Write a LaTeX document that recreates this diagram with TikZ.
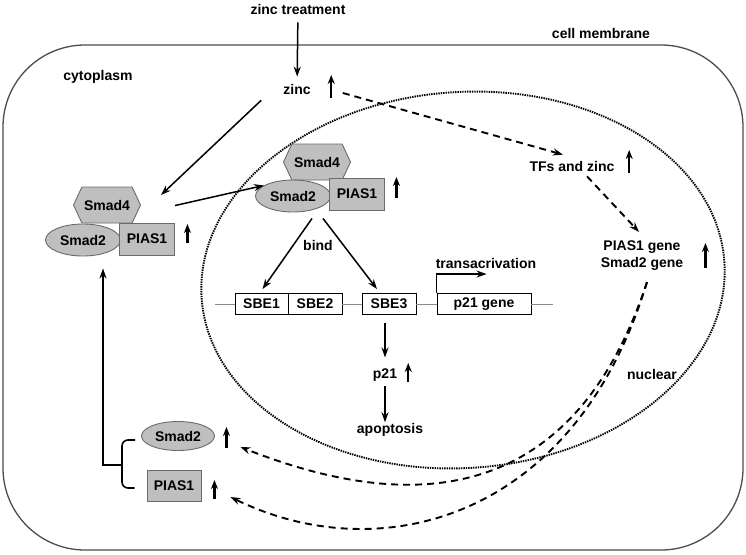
\documentclass[tikz,border=0pt]{standalone}
\usepackage{fontspec}
\setmainfont{Liberation Sans}
\usetikzlibrary{shapes.geometric,shapes.symbols,arrows.meta,calc}

\definecolor{protfill}{gray}{0.75}
\definecolor{protline}{gray}{0.42}
\definecolor{dnaline}{gray}{0.55}
\definecolor{membline}{gray}{0.3}

\tikzset{
  lbl/.style={font=\bfseries\fontsize{14}{17}\selectfont, inner sep=1pt},
  prot/.style={lbl, draw=protline, fill=protfill, line width=0.9pt, inner sep=0pt},
  hexa/.style={prot, signal, signal to=east and west, signal pointer angle=130, minimum width=67, minimum height=36},
  smadell/.style={prot, ellipse, minimum width=75, minimum height=32},
  piasbox/.style={prot, rectangle, minimum width=55, minimum height=32},
  sbebox/.style={lbl, draw, fill=white, line width=0.9pt, minimum height=21, inner sep=0pt},
  arr/.style={->, line width=1.5pt},
  darr/.style={->, line width=1.9pt, dash pattern=on 7pt off 5pt},
  incr/.style={->, line width=2.2pt, >={Stealth[length=9pt,width=7pt]}},
  dna/.style={draw=dnaline, line width=0.9pt},
}

\begin{document}
\begin{tikzpicture}[x=1pt,y=-1pt,>={Stealth[length=10pt,width=7pt]}]
  \useasboundingbox (0,0) rectangle (746,554);

  % cell and nucleus
  \draw[membline, line width=1.3pt, rounded corners=82pt] (3,45) rectangle (743,550);
  \draw[line width=1.9pt, dash pattern=on 1.4pt off 1pt, rotate around={4:(463,280)}]
    (463,280) ellipse [x radius=262, y radius=188];

  \node[lbl] (zt) at (298,9) {zinc treatment};
  \node[lbl] (cm) at (601,33) {cell membrane};
  \node[lbl] (cyto) at (98,77) {cytoplasm};
  \node[lbl] (zinc) at (297,89) {zinc};
  \node[lbl] (nuc) at (652,374) {nuclear};

  % complex in the cytoplasm
  \node[hexa] (s4a) at (107,205) {Smad4};
  \node[smadell] (s2a) at (83,240) {Smad2};
  \node[piasbox] (p1a) at (147,239) {PIAS1};

  % complex in the nucleus
  \node[hexa] (s4b) at (317,162) {Smad4};
  \node[smadell] (s2b) at (293,196) {Smad2};
  \node[piasbox] (p1b) at (357,194) {PIAS1};
  \node[lbl] (bind) at (318,245) {bind};

  % promoter
  \node[sbebox, minimum width=53] (sbe1) at (261.5,304) {SBE1};
  \node[sbebox, minimum width=54] (sbe2) at (315,304) {SBE2};
  \node[sbebox, minimum width=54] (sbe3) at (389,304) {SBE3};
  \node[sbebox, minimum width=94] (p21g) at (484,304) {p21 gene};
  \node[lbl] (trans) at (486,263) {transacrivation};
  \node[lbl] (p21) at (385,375) {p21};
  \node[lbl] (apop) at (390,430) {apoptosis};

  \node[lbl] (tfs) at (572,166) {TFs and zinc};
  \node[lbl, align=center] (genes) at (642,256) {PIAS1 gene\\Smad2 gene};

  % new proteins
  \node[smadell, minimum width=73, minimum height=29] (s2c) at (178,436) {Smad2};
  \node[piasbox, minimum width=54, minimum height=31] (p1c) at (174,486) {PIAS1};

  \draw[dna] (sbe1.west) -- ++(-20,0);
  \draw[dna] (sbe2.east) -- (sbe3.west);
  \draw[dna] (sbe3.east) -- (p21g.west);
  \draw[dna] (p21g.east) -- ++(22,0);

  % arrows
  \draw[arr, shorten <=7pt, shorten >=6pt] (zt) -- (zinc);
  \draw[arr] ([shift={(-21,5)}]zinc.south west) -- ([shift={(20,-10)}]s4a.east);
  \draw[arr] ([shift={(28,-17)}]p1a.north) -- (s2b.160);
  \draw[arr] ([shift={(19,6)}]s2b.south) -- ([shift={(1,-4)}]sbe1.north);
  \draw[arr] ([shift={(30,6)}]s2b.south) -- ([shift={(-12,-4)}]sbe3.north);
  \draw[arr] (p21g.north west) -- ++(0,-19) -- ++(50,0);
  \draw[arr] ($(p21 |- sbe3.south)+(0,8)$) -- ([yshift=10pt]p21.north);
  \draw[arr] ([yshift=-3pt]p21.south) -- (p21.south |- apop.north);

  \draw[darr] ([shift={(31,4)}]zinc.east) -- ([shift={(-9,-5)}]tfs.north);
  \draw[darr] ([shift={(15,4)}]tfs.south) -- ([shift={(-3,-8)}]genes.north);
  \draw[darr] ([shift={(5,10)}]genes.south) .. controls (570,515) and (400,510) .. ([shift={(25.5,11)}]s2c.east);
  \draw[darr] ([shift={(5,10)}]genes.south) .. controls (575,520) and (380,570) .. ([shift={(29,11)}]p1c.east);

  % bracket back to the complex
  \coordinate (brk) at (122,465);
  \draw[line width=1.6pt, rounded corners=6pt] ([shift={(-6,4)}]s2c.west) -| (brk) |- ([shift={(-12,2)}]p1c.west);
  \draw[arr] (brk) -| ([shift={(20,12)}]s2a.south);

  % increase marks
  \draw[incr] ([shift={(19.4,9)}]zinc.east) -- ++(0,-23);
  \draw[incr] ([shift={(12.5,4)}]p1a.east) -- ++(0,-19);
  \draw[incr] ([shift={(11.5,4)}]p1b.east) -- ++(0,-21);
  \draw[incr] ([shift={(10,7)}]p21.east) -- ++(0,-19);
  \draw[incr] ([shift={(13.6,7)}]tfs.east) -- ++(0,-23);
  \draw[incr] ([shift={(21,12)}]genes.east) -- ++(0,-25);
  \draw[incr] ([shift={(11.5,12)}]s2c.east) -- ++(0,-21);
  \draw[incr] ([shift={(13,13)}]p1c.east) -- ++(0,-19);
\end{tikzpicture}
\end{document}
